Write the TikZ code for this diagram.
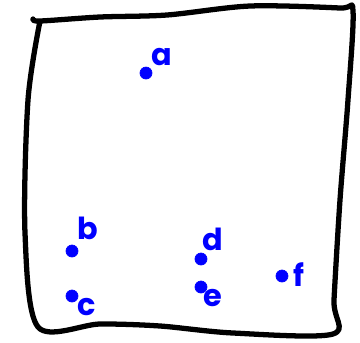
\documentclass[tikz,border=0pt]{standalone}
\usepackage{fontspec}
\setmainfont{Poppins}
\begin{document}
\begin{tikzpicture}[x=0.02cm, y=-0.02cm, line join=round, line cap=round, font=\LARGE\bfseries]
				\tikzset{pt/.style={fill=blue, draw=blue, circle, inner sep=0pt, minimum size=0.24cm},
					lbl/.style={text=blue, inner sep=0pt}}
				\useasboundingbox (0,0) rectangle (360,343);
				% the frame, drawn freehand
				\draw[line width=3pt, smooth, tension=.5] plot coordinates {(33,19) (40,21) (100,17) (167,15) (250,6) (340,8) (353,11) (348,100) (340,200) (334,300) (333,334) (233,333) (160,326) (100,324) (38,327) (25,233) (28,100) (40,21)};
				% points
				\node[pt] (a) at (146,73) {};
				\node[pt] (b) at (72,251) {};
				\node[pt] (c) at (72,296) {};
				\node[pt] (d) at (201,259) {};
				\node[pt] (e) at (201,287) {};
				\node[pt] (f) at (282,276) {};
				% labels
				\node[lbl] (la) at (162,57) {a};
				\node[lbl] (lb) at (88,228) {b};
				\node[lbl] (lc) at (87,307) {c};
				\node[lbl] (ld) at (213,239) {d};
				\node[lbl] (le) at (213,298) {e};
				\node[lbl] (lf) at (299,275) {f};
			\end{tikzpicture}
\end{document}
